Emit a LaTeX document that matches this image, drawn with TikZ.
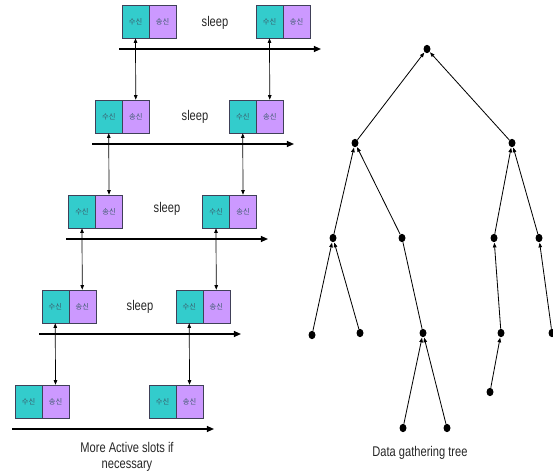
\documentclass[tikz,border=0pt]{standalone}
\usepackage{fontspec}
\setmainfont{Liberation Sans}
\newfontfamily\narrowsans[FakeStretch=0.79]{Liberation Sans}
\newfontfamily\kor{Noto Sans CJK KR}
\usepackage{tikz}
\usetikzlibrary{arrows.meta,shapes.geometric}

\definecolor{rxcol}{HTML}{33CCCC}
\definecolor{txcol}{HTML}{CC99FF}
\definecolor{slotline}{HTML}{404058}
\definecolor{slottext}{HTML}{3A5A6A}

\begin{document}
\begin{tikzpicture}[x=0.03cm,y=-0.03cm,
  rx/.style={draw=slotline,fill=rxcol,minimum width=0.81cm,minimum height=0.99cm,
    inner sep=0pt,font=\kor\fontsize{6.2}{7}\selectfont,text=slottext},
  tx/.style={rx,fill=txcol},
  axis/.style={line width=1.2pt,-{Triangle[length=6pt,width=5pt]}},
  link/.style={line width=0.6pt,{Triangle[length=4pt,width=3pt]}-{Triangle[length=4pt,width=3pt]}},
  dot/.style={fill,ellipse,inner sep=0pt,minimum width=0.21cm,minimum height=0.25cm},
  up/.style={line width=0.7pt,-{Triangle[length=4pt,width=3pt]},shorten >=0.3pt},
  lbl/.style={font=\narrowsans\fontsize{12}{14}\selectfont,text=black!85}]
\useasboundingbox (0,0) rectangle (553,474);

% slot frames, each row half a slot to the left of the one above
\node (c11) at (135.5,21.5) [rx] {수신};
\node (s11) at (162.5,21.5) [tx] {송신};
\node (c12) at (269.5,21.5) [rx] {수신};
\node (s12) at (296.5,21.5) [tx] {송신};
\node (z1) at (215,23) [lbl] {sleep};
\coordinate (t1a) at (119,49);
\coordinate (t1b) at (321,49);

\node (c21) at (108.75,116.5) [rx] {수신};
\node (s21) at (135.75,116.5) [tx] {송신};
\node (c22) at (242.75,116.5) [rx] {수신};
\node (s22) at (269.75,116.5) [tx] {송신};
\node (z2) at (195,117) [lbl] {sleep};
\coordinate (t2a) at (92,144);
\coordinate (t2b) at (294,144);

\node (c31) at (82,211.5) [rx] {수신};
\node (s31) at (109,211.5) [tx] {송신};
\node (c32) at (216,211.5) [rx] {수신};
\node (s32) at (243,211.5) [tx] {송신};
\node (z3) at (167,209) [lbl] {sleep};
\coordinate (t3a) at (66,239);
\coordinate (t3b) at (268,239);

\node (c41) at (55.25,306.5) [rx] {수신};
\node (s41) at (82.25,306.5) [tx] {송신};
\node (c42) at (189.25,306.5) [rx] {수신};
\node (s42) at (216.25,306.5) [tx] {송신};
\node (z4) at (140,307) [lbl] {sleep};
\coordinate (t4a) at (39,334);
\coordinate (t4b) at (241,334);

\node (c51) at (28.5,401.5) [rx] {수신};
\node (s51) at (55.5,401.5) [tx] {송신};
\node (c52) at (162.5,401.5) [rx] {수신};
\node (s52) at (189.5,401.5) [tx] {송신};
\coordinate (t5a) at (12,429);
\coordinate (t5b) at (214,429);

\node (more) at (127,457) [lbl,align=center] {More Active slots if\\necessary};

\draw[axis] (t1a) -- (t1b);
\draw[axis] (t2a) -- (t2b);
\draw[axis] (t3a) -- (t3b);
\draw[axis] (t4a) -- (t4b);
\draw[axis] (t5a) -- (t5b);

\draw[link] (c11.south) -- (s21.north);
\draw[link] (c12.south) -- (s22.north);
\draw[link] (c21.south) -- (s31.north);
\draw[link] (c22.south) -- (s32.north);
\draw[link] (c31.south) -- (s41.north);
\draw[link] (c32.south) -- (s42.north);
\draw[link] (c41.south) -- (s51.north);
\draw[link] (c42.south) -- (s52.north);

% gathering tree
\node (r) at (427,49) [dot] {};
\node (a) at (355,143) [dot] {};
\node (b) at (512,143) [dot] {};
\node (a1) at (333,238) [dot] {};
\node (a2) at (402,238) [dot] {};
\node (b1) at (494,238) [dot] {};
\node (b2) at (539,238) [dot] {};
\node (a11) at (312,335) [dot] {};
\node (a12) at (360,333) [dot] {};
\node (a21) at (423,333) [dot] {};
\node (b11) at (501,333) [dot] {};
\node (b21) at (552,333) [dot] {};
\node (b111) at (490,392) [dot] {};
\node (a211) at (403,428) [dot] {};
\node (a212) at (447,428) [dot] {};

\draw[up] (a) to (r);
\draw[up] (b) to (r);
\draw[up] (a1) to (a);
\draw[up] (a2) to (a);
\draw[up] (b1) to (b);
\draw[up] (b2) to (b);
\draw[up] (a11) to (a1);
\draw[up] (a12) to (a1);
\draw[line width=0.7pt] (a21) to (a2);
\draw[up] (b11) to (b1);
\draw[up] (b21) to (b2);
\draw[up] (b111) to (b11);
\draw[up] (a211) to (a21);
\draw[up] (a212) to (a21);

\node (tree) at (420,453) [lbl] {Data gathering tree};

\end{tikzpicture}
\end{document}
